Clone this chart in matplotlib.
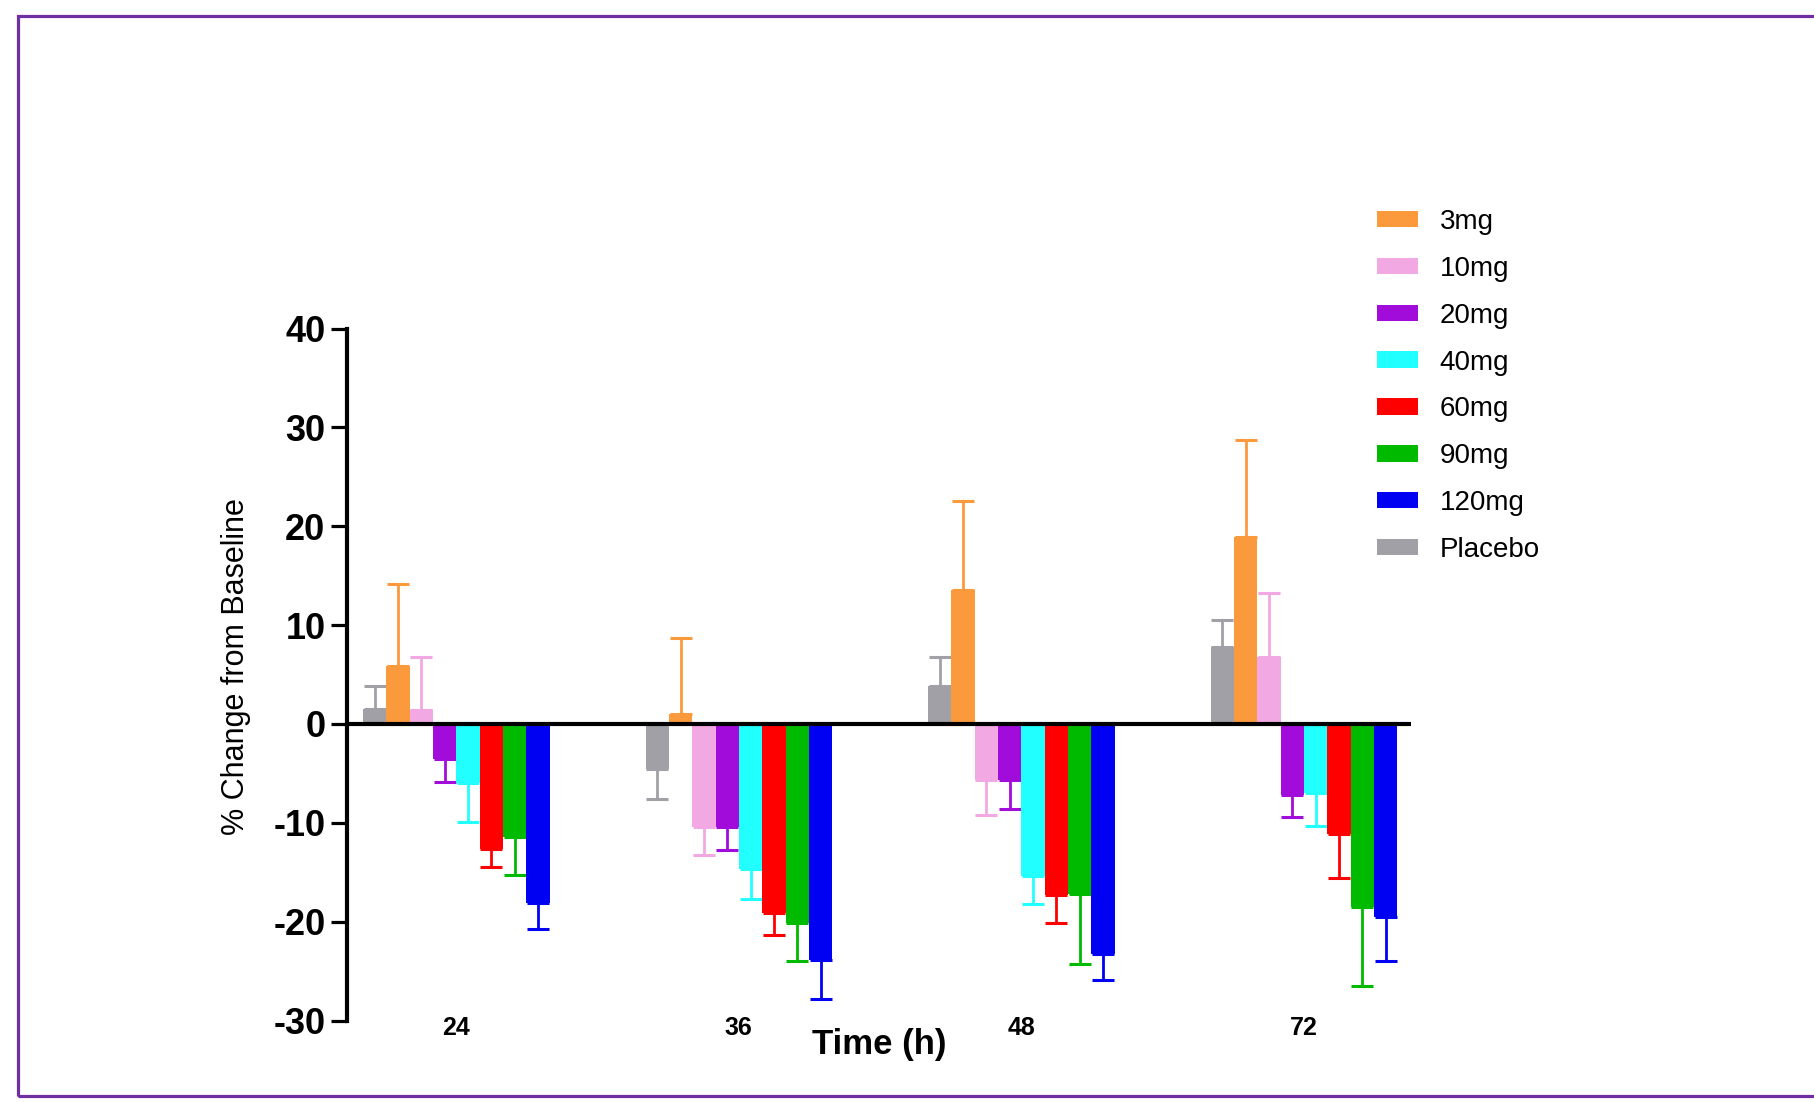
import matplotlib
matplotlib.use("Agg")
import matplotlib.pyplot as plt
import numpy as np
from matplotlib.patches import Rectangle, Patch

# ---- data ----
time_labels = ["24", "36", "48", "72"]
series_names = ["Placebo", "3mg", "10mg", "20mg", "40mg", "60mg", "90mg", "120mg"]
placebo = [1.5, -4.6, 3.8, 7.8]
placebo_err = [2.3, 3.0, 3.0, 2.7]
mg3 = [5.9, 1.0, 13.6, 18.9]
mg3_err = [8.3, 7.7, 9.0, 9.8]
mg10 = [1.4, -10.4, -5.7, 6.8]
mg10_err = [5.4, 2.9, 3.5, 6.5]
mg20 = [-3.5, -10.4, -5.7, -7.2]
mg20_err = [2.4, 2.3, 2.9, 2.2]
mg40 = [-6.0, -14.7, -15.4, -7.0]
mg40_err = [3.9, 3.0, 2.8, 3.3]
mg60 = [-12.6, -19.1, -17.3, -11.1]
mg60_err = [1.9, 2.3, 2.8, 4.5]
mg90 = [-11.4, -20.1, -17.2, -18.5]
mg90_err = [3.9, 3.9, 7.1, 8.0]
mg120 = [-18.1, -23.9, -23.3, -19.5]
mg120_err = [2.6, 3.9, 2.6, 4.5]
legend_order = ["3mg", "10mg", "20mg", "40mg", "60mg", "90mg", "120mg", "Placebo"]
y_ticks = [-30, -20, -10, 0, 10, 20, 30, 40]

values = [placebo, mg3, mg10, mg20, mg40, mg60, mg90, mg120]
errors = [placebo_err, mg3_err, mg10_err, mg20_err, mg40_err, mg60_err, mg90_err, mg120_err]
colors = {
    "Placebo": "#A0A0A6",
    "3mg": "#FA9A3C",
    "10mg": "#F2A8E2",
    "20mg": "#A20CDA",
    "40mg": "#22FFFF",
    "60mg": "#FF0000",
    "90mg": "#00BA00",
    "120mg": "#0000F2",
}

plt.rcParams["font.family"] = ["Liberation Sans", "DejaVu Sans"]

W, H = 1814, 1102
fig = plt.figure(figsize=(W / 100, H / 100), dpi=100)
ax = fig.add_axes([347 / W, 1 - 1020.5 / H, (1411.5 - 347) / W, (1020.5 - 328.6) / H])

x = np.arange(len(time_labels))
bw = 0.0826
n = len(series_names)
for i, (name, vals, errs) in enumerate(zip(series_names, values, errors)):
    pos = x + (i - (n - 1) / 2) * bw
    vals = np.array(vals)
    errs = np.array(errs)
    ax.bar(pos, vals, width=bw, color=colors[name], zorder=2, linewidth=0)
    lower = np.where(vals < 0, errs, 0)
    upper = np.where(vals >= 0, errs, 0)
    ax.errorbar(pos, vals, yerr=[lower, upper], fmt="none", ecolor=colors[name],
                elinewidth=2.0, capsize=8, capthick=2.2, zorder=1)

ax.axhline(0, color="black", lw=3, zorder=3)
ax.set_xlim(-0.387, 3.381)
ax.set_ylim(-30, 40)
ax.set_yticks(y_ticks)
ax.set_yticklabels([str(t) for t in y_ticks], fontsize=26, fontweight="bold")
ax.set_xticks(x)
ax.set_xticklabels(time_labels, fontsize=18, fontweight="bold")
ax.tick_params(axis="x", length=0, pad=-3)
ax.tick_params(axis="y", length=11.5, width=2.3, pad=4)

for s in ["top", "right", "bottom"]:
    ax.spines[s].set_visible(False)
ax.spines["left"].set_linewidth(3)
ax.patch.set_alpha(0)

ax.set_xlabel("Time (h)", fontsize=25, fontweight="bold")
ax.xaxis.set_label_coords(0.5, -0.0354)
ax.xaxis.label.set_va("center")
ax.set_ylabel("% Change from Baseline", fontsize=22)
ax.yaxis.set_label_coords(-0.104, 0.511)
ax.yaxis.label.set_va("center")

handles = [Patch(facecolor=colors[nm], edgecolor="none") for nm in legend_order]
fig.legend(handles, legend_order, loc="upper left", bbox_to_anchor=(1377 / W, 1 - 209 / H),
           frameon=False, fontsize=20, handlelength=1.47, handleheight=0.54,
           labelspacing=0.75, handletextpad=0.79, borderpad=0, borderaxespad=0)

frame = Rectangle((17.5 / W, 1 - 1095.5 / H), 1.05, (1095.5 - 15.8) / H,
                  transform=fig.transFigure, fill=False, edgecolor="#7030A0",
                  linewidth=2.3, clip_on=False)
fig.patches.append(frame)

fig.savefig("out.png", dpi=100, facecolor="white")
